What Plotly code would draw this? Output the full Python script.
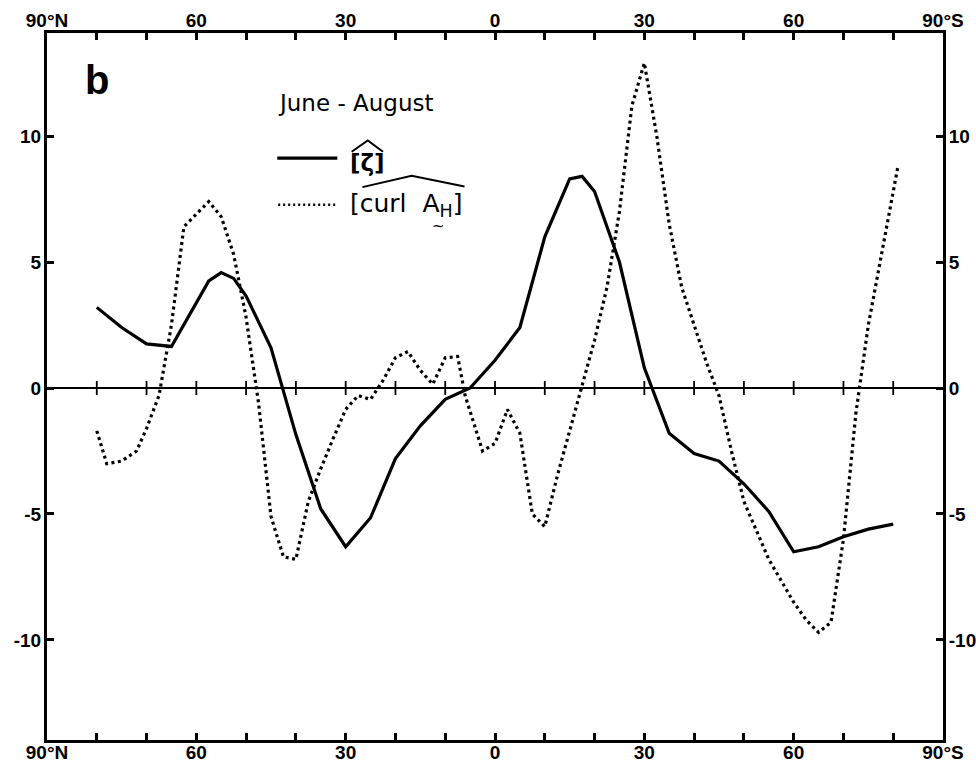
import plotly.graph_objects as go

# ---- data (latitude: positive = N, negative = S) ----
zeta_lat = [80, 75, 70, 65, 57.5, 55, 52.5, 50, 45, 40, 35, 30, 25, 22.5, 20, 15, 10, 5, 0,
            -5, -10, -15, -17.5, -20, -25, -30, -35, -40, -45, -50, -55, -60, -65, -70, -75, -80]
zeta_val = [3.2, 2.4, 1.75, 1.65, 4.25, 4.58, 4.35, 3.65, 1.6, -1.85, -4.8, -6.3, -5.15, -3.95, -2.8,
            -1.5, -0.45, 0.0, 1.1, 2.4, 6.0, 8.3, 8.4, 7.8, 5.0, 0.8, -1.8, -2.6, -2.9, -3.8,
            -4.9, -6.5, -6.3, -5.9, -5.6, -5.4]

curl_lat = [80, 78, 75, 72, 70, 67.5, 65, 62.5, 57.5, 55, 52.5, 50, 47.5, 45, 42.5, 40, 37.5, 35,
            32.5, 30, 27.5, 25, 22.5, 20, 17.5, 15, 12.5, 10, 7.5, 6, 2.5, 0, -2.5, -5, -7.5, -10,
            -12.5, -15, -17.5, -20, -22.5, -25, -27.5, -30, -32.5, -35, -37.5, -40, -42.5, -45,
            -47.5, -50, -55, -60, -62.5, -65, -67.5, -70, -72.5, -75, -81]
curl_val = [-1.7, -3.0, -2.9, -2.5, -1.6, -0.3, 2.5, 6.4, 7.4, 6.8, 5.3, 2.8, -0.6, -5.1, -6.7, -6.8,
            -4.5, -3.2, -2.0, -0.85, -0.3, -0.45, 0.3, 1.2, 1.45, 0.7, 0.15, 1.2, 1.25, -0.3, -2.5,
            -2.2, -0.85, -1.8, -5.0, -5.5, -3.5, -1.7, 0.0, 1.9, 4.0, 7.0, 11.2, 12.9, 10.0, 6.5,
            4.0, 2.5, 1.0, -0.3, -2.5, -4.5, -6.8, -8.5, -9.2, -9.7, -9.3, -6.0, -1.0, 2.5, 8.85]

x_tickvals = [90, 60, 30, 0, -30, -60, -90]
x_ticktext = ["90°N", "60", "30", "0", "30", "60", "90°S"]
x_minorvals = [80, 70, 50, 40, 20, 10, -10, -20, -40, -50, -70, -80]
zero_tick_lats = [80, 70, 60, 50, 40, 30, 20, 10, 0, -10, -20, -30, -40, -50, -60, -70, -80]
y_tickvals = [-10, -5, 0, 5, 10]
y_ticktext = ["-10", "-5", "0", "5", "10"]

X_RANGE = [90, -90]
Y_RANGE = [-13.97, 14.09]
FONT = "Liberation Sans, Arial, sans-serif"
TFONT = "DejaVu Sans, sans-serif"

fig = go.Figure()

fig.add_trace(go.Scatter(x=zeta_lat, y=zeta_val, mode="lines",
                         line=dict(color="black", width=3.2), showlegend=False, hoverinfo="skip"))
fig.add_trace(go.Scatter(x=curl_lat, y=curl_val, mode="lines",
                         line=dict(color="black", width=3.2, dash="3px,3.5px"),
                         showlegend=False, hoverinfo="skip"))
# ticks across the zero line
fig.add_trace(go.Scatter(x=zero_tick_lats, y=[0] * len(zero_tick_lats), mode="markers",
                         marker=dict(symbol="line-ns", size=10, line=dict(color="black", width=1.8)),
                         showlegend=False, hoverinfo="skip"))
# dummy trace to activate secondary axes
fig.add_trace(go.Scatter(x=X_RANGE, y=[0, 0], xaxis="x2", yaxis="y2", mode="lines",
                         line=dict(width=0), showlegend=False, hoverinfo="skip"))

tickfont = dict(family=FONT, size=19, color="black", weight="bold")
minor = dict(tickvals=x_minorvals, ticks="inside", ticklen=7, tickwidth=2.5, tickcolor="black",
             showgrid=False)
common_x = dict(range=X_RANGE, tickmode="array", tickvals=x_tickvals, ticktext=x_ticktext,
                ticks="inside", ticklen=7, tickwidth=2.5, tickcolor="black", showline=True,
                linewidth=3, linecolor="black", showgrid=False, zeroline=False, tickfont=tickfont,
                automargin=False, minor=minor)
common_y = dict(range=Y_RANGE, tickmode="array", tickvals=y_tickvals, ticktext=y_ticktext,
                ticks="inside", ticklen=7, tickwidth=2.5, tickcolor="black", showline=True,
                linewidth=3, linecolor="black", showgrid=False, tickfont=tickfont,
                automargin=False, ticklabelstandoff=-1)

fig.update_layout(
    width=976, height=764,
    margin=dict(l=47, r=33, t=33, b=24, autoexpand=False),
    paper_bgcolor="white", plot_bgcolor="white",
    xaxis=dict(side="bottom", ticklabelstandoff=-7, **common_x),
    xaxis2=dict(side="top", overlaying="x", ticklabelstandoff=-5, **common_x),
    yaxis=dict(side="left", zeroline=True, zerolinecolor="black", zerolinewidth=1.8, **common_y),
    yaxis2=dict(side="right", overlaying="y", zeroline=False, **common_y),
)

ann = []
ann.append(dict(x=0.056, y=0.933, xref="paper", yref="paper", text="<b>b</b>", showarrow=False,
                font=dict(family=FONT, size=40, color="black"), xanchor="center", yanchor="middle"))
ann.append(dict(x=0.256, y=0.901, xref="paper", yref="paper", text="June - August", showarrow=False,
                font=dict(family=TFONT, size=23, color="black"), xanchor="left", yanchor="middle"))
ann.append(dict(x=0.336, y=0.816, xref="paper", yref="paper", text="<b>[ζ]</b>", showarrow=False,
                font=dict(family=TFONT, size=23, color="black"), xanchor="left", yanchor="middle"))
ann.append(dict(x=0.336, y=0.757, xref="paper", yref="paper", text="[curl  A<sub>H</sub>]",
                showarrow=False, font=dict(family=TFONT, size=25, color="black"),
                xanchor="left", yanchor="middle"))
ann.append(dict(x=0.437, y=0.727, xref="paper", yref="paper", text="~", showarrow=False,
                font=dict(family=TFONT, size=15, color="black"), xanchor="center", yanchor="middle"))
fig.update_layout(annotations=ann)

# legend samples and hats (paper-coordinate decorations)
shapes = [
    dict(type="line", xref="paper", yref="paper", x0=0.257, x1=0.324, y0=0.823, y1=0.823,
         line=dict(color="black", width=3.2)),
    dict(type="line", xref="paper", yref="paper", x0=0.258, x1=0.324, y0=0.757, y1=0.757,
         line=dict(color="black", width=2.5, dash="2px,3px")),
    # hat over zeta
    dict(type="path", xref="paper", yref="paper",
         path="M 0.340 0.832 L 0.358 0.848 L 0.375 0.832", line=dict(color="black", width=2)),
    # wide hat over curl
    dict(type="path", xref="paper", yref="paper",
         path="M 0.352 0.782 L 0.407 0.798 L 0.466 0.783", line=dict(color="black", width=2)),
]
fig.update_layout(shapes=shapes)

fig.write_html("out.html", config={"displayModeBar": False},
               post_script="document.body.style.margin='0px';document.body.style.padding='0px';")
